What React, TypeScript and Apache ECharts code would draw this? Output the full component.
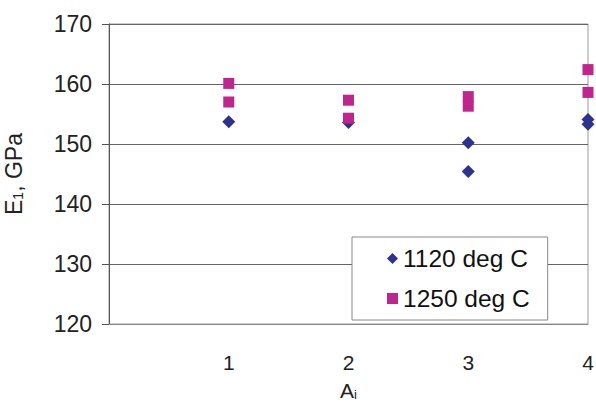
import React, { useEffect, useRef } from "react";
import * as echarts from "echarts";

const xLabels = [1, 2, 3, 4];
const series1120X = [1, 2, 3, 3, 4, 4];
const series1120Y = [153.7, 153.6, 150.2, 145.4, 154.1, 153.3];
const series1250X = [1, 1, 2, 2, 3, 3, 4, 4];
const series1250Y = [160.1, 157.0, 157.3, 154.3, 157.9, 156.3, 162.4, 158.6];
const seriesNames = ["1120 deg C", "1250 deg C"];
const yTicks = { min: 120, max: 170, interval: 10 };

const FONT = "Liberation Sans, Arial, sans-serif";

export default function App() {
  const ref = useRef<HTMLDivElement>(null);
  useEffect(() => {
    if (!ref.current) return;
    const chart = echarts.init(ref.current, null, { renderer: "svg" });
    const pts = (xs: number[], ys: number[]) => xs.map((x, i) => [x, ys[i]]);
    chart.setOption({
      animation: false,
      textStyle: { fontFamily: FONT },
      grid: {
        left: 109,
        right: 8,
        top: 24,
        bottom: 82,
        containLabel: false,
        outerBoundsMode: "none",
        show: true,
        borderColor: "#9a9a9a",
        borderWidth: 1,
      },
      legend: {
        orient: "vertical",
        left: 352,
        top: 237,
        backgroundColor: "#fff",
        borderColor: "#888",
        borderWidth: 1,
        padding: [9, 18, 9, 35],
        itemGap: 15,
        itemWidth: 11,
        itemHeight: 11,
        textStyle: { fontSize: 24.5, color: "#111", fontFamily: FONT },
        data: [
          { name: seriesNames[0], icon: "diamond" },
          { name: seriesNames[1], icon: "rect" },
        ],
      },
      xAxis: {
        type: "value",
        min: 0,
        max: 4,
        interval: 1,
        name: "{a|A}{s|i}",
        nameLocation: "middle",
        nameGap: 55,
        nameTextStyle: {
          rich: {
            a: { fontSize: 21, color: "#222", fontFamily: FONT },
            s: { fontSize: 13, color: "#222", fontFamily: FONT, verticalAlign: "bottom", padding: [9, 0, 0, 0] },
          },
        },
        axisLine: { show: true, lineStyle: { color: "#888" } },
        axisTick: { show: false },
        splitLine: { show: false },
        axisLabel: {
          fontSize: 21,
          color: "#222",
          margin: 28,
          formatter: (v: number) => (xLabels.includes(v) ? String(v) : ""),
        },
      },
      yAxis: {
        type: "value",
        min: yTicks.min,
        max: yTicks.max,
        interval: yTicks.interval,
        name: "{a|E}{s|1}{a|, GPa}",
        nameLocation: "middle",
        nameGap: 84,
        nameTextStyle: {
          rich: {
            a: { fontSize: 23, color: "#222", fontFamily: FONT },
            s: { fontSize: 14, color: "#222", fontFamily: FONT, verticalAlign: "bottom", padding: [9, 0, 0, 0] },
          },
        },
        axisLine: { show: true, lineStyle: { color: "#555" } },
        axisTick: { show: true, inside: false, length: 7, lineStyle: { color: "#555" } },
        splitLine: { show: true, lineStyle: { color: "#666" } },
        axisLabel: { fontSize: 23, color: "#222", margin: 17 },
      },
      series: [
        {
          name: seriesNames[0],
          type: "scatter",
          symbol: "diamond",
          symbolSize: 13,
          itemStyle: { color: "#2e3192", opacity: 1 },
          data: pts(series1120X, series1120Y),
          z: 2,
        },
        {
          name: seriesNames[1],
          type: "scatter",
          symbol: "rect",
          symbolSize: 11,
          itemStyle: { color: "#c0248f", opacity: 1 },
          data: pts(series1250X, series1250Y),
          z: 3,
        },
      ],
    });
    return () => chart.dispose();
  }, []);
  return <div ref={ref} style={{ width: 596, height: 406, position: "absolute", left: 0, top: 0 }} />;
}
